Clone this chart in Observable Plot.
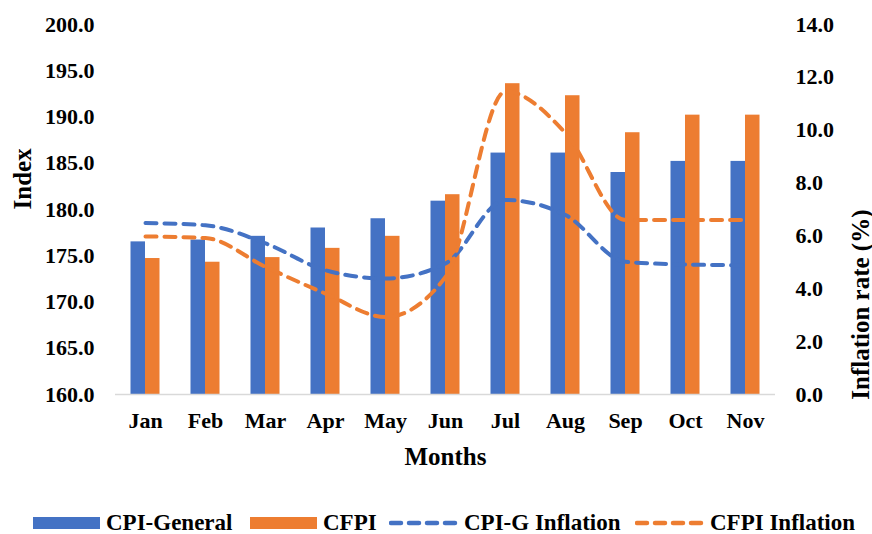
<!DOCTYPE html>
<html><head><meta charset="utf-8">
<script src="https://cdn.jsdelivr.net/npm/d3@7"></script>
<script src="https://cdn.jsdelivr.net/npm/@observablehq/plot@0.6"></script>
<style>
html,body{margin:0;background:#fff;font-family:"Liberation Serif","Times New Roman",serif;}
#chart svg{display:block;}
#legend{position:relative;width:872px;height:54px;font-weight:bold;font-size:23px;line-height:26px;color:#000;white-space:nowrap;}
#legend .it{position:absolute;top:30px;display:flex;align-items:center;height:26px;}
</style></head><body>
<div id="chart"></div>
<div id="legend"></div>
<script>
const months = ["Jan","Feb","Mar","Apr","May","Jun","Jul","Aug","Sep","Oct","Nov"];
const cpiGeneral = [176.5,176.7,177.1,178.0,179.0,180.9,186.1,186.1,184.0,185.2,185.2];
const cfpi = [174.7,174.3,174.8,175.8,177.1,181.6,193.6,192.3,188.3,190.2,190.2];
const cpiGInflation = [6.49,6.40,5.72,4.70,4.39,4.96,7.36,6.79,5.02,4.92,4.89];
const cfpiInflation = [5.98,5.92,4.83,3.82,2.93,4.45,11.47,9.89,6.60,6.60,6.60];
const leftTicks = [160,165,170,175,180,185,190,195,200];
const rightTicks = [0,2,4,6,8,10,12,14];

const blue = "#4472C4", orange = "#ED7D31";
const toLeft = v => 160 + v * 40 / 14;
const rows = months.map((m,i)=>({m, g:cpiGeneral[i], f:cfpi[i], gi:toLeft(cpiGInflation[i]), fi:toLeft(cfpiInflation[i])}));

const font = `"Liberation Serif","Times New Roman",serif`;
const plot = Plot.plot({
  width: 872, height: 480,
  marginLeft: 115, marginRight: 97, marginTop: 24, marginBottom: 86,
  style: {fontFamily: font, fontSize: "22px", fontWeight: "bold", color: "#000", background: "#fff"},
  x: {domain: months, padding: 0, label: null},
  y: {domain: [160, 200], label: null},
  marks: [
    Plot.barY(rows, {x:"m", y1:160, y2:"g", fill: blue, insetLeft: 15.5, insetRight: 30}),
    Plot.barY(rows, {x:"m", y1:160, y2:"f", fill: orange, insetLeft: 30, insetRight: 15.5}),
    Plot.ruleY([160], {stroke:"#d9d9d9", strokeWidth:1.5}),
    Plot.line(rows, {x:"m", y:"gi", stroke: blue, strokeWidth: 4, strokeDasharray: "11,8", strokeLinecap:"round", curve:"monotone-x"}),
    Plot.line(rows, {x:"m", y:"fi", stroke: orange, strokeWidth: 4, strokeDasharray: "11,8", strokeLinecap:"round", curve:"monotone-x"}),
    Plot.axisX({tickSize: 0, tickPadding: 18, fontSize: 22, label: null}),
    Plot.text(["Months"], {frameAnchor:"bottom", dy: 70, fontSize: 25, fontWeight:"bold"}),
    Plot.axisY({anchor:"left", ticks: leftTicks, tickSize: 0, tickPadding: 21, tickFormat: d => d.toFixed(1), fontSize: 22, label: null}),
    Plot.text(["Index"], {frameAnchor:"left", dx: -93, rotate: -90, fontSize: 25, fontWeight:"bold"}),
    Plot.axisY({anchor:"right", ticks: rightTicks.map(toLeft), tickSize: 0, tickPadding: 20, tickFormat: d => ((d-160)*14/40).toFixed(1), fontSize: 22, label: null}),
    Plot.text(["Inflation rate (%)"], {frameAnchor:"right", dx: 85, rotate: -90, fontSize: 25, fontWeight:"bold"})
  ]
});
document.getElementById("chart").appendChild(plot);

const legendItems = [
  {label:"CPI-General", color: blue, type:"bar", left: 33},
  {label:"CFPI", color: orange, type:"bar", left: 250},
  {label:"CPI-G Inflation", color: blue, type:"line", left: 389},
  {label:"CFPI Inflation", color: orange, type:"line", left: 635}
];
const lg = document.getElementById("legend");
legendItems.forEach(it => {
  const d = document.createElement("div"); d.className = "it"; d.style.left = it.left + "px";
  const sw = it.type === "bar"
    ? `<svg width="67" height="12" style="margin-right:6px;flex:none"><rect x="0" y="0" width="67" height="12" fill="${it.color}"/></svg>`
    : `<svg width="72" height="12" style="margin-right:3px;flex:none"><line x1="2" y1="6" x2="70" y2="6" stroke="${it.color}" stroke-width="4.5" stroke-dasharray="10,8" stroke-linecap="round"/></svg>`;
  d.innerHTML = sw + `<span>${it.label}</span>`;
  lg.appendChild(d);
});
</script></body></html>
